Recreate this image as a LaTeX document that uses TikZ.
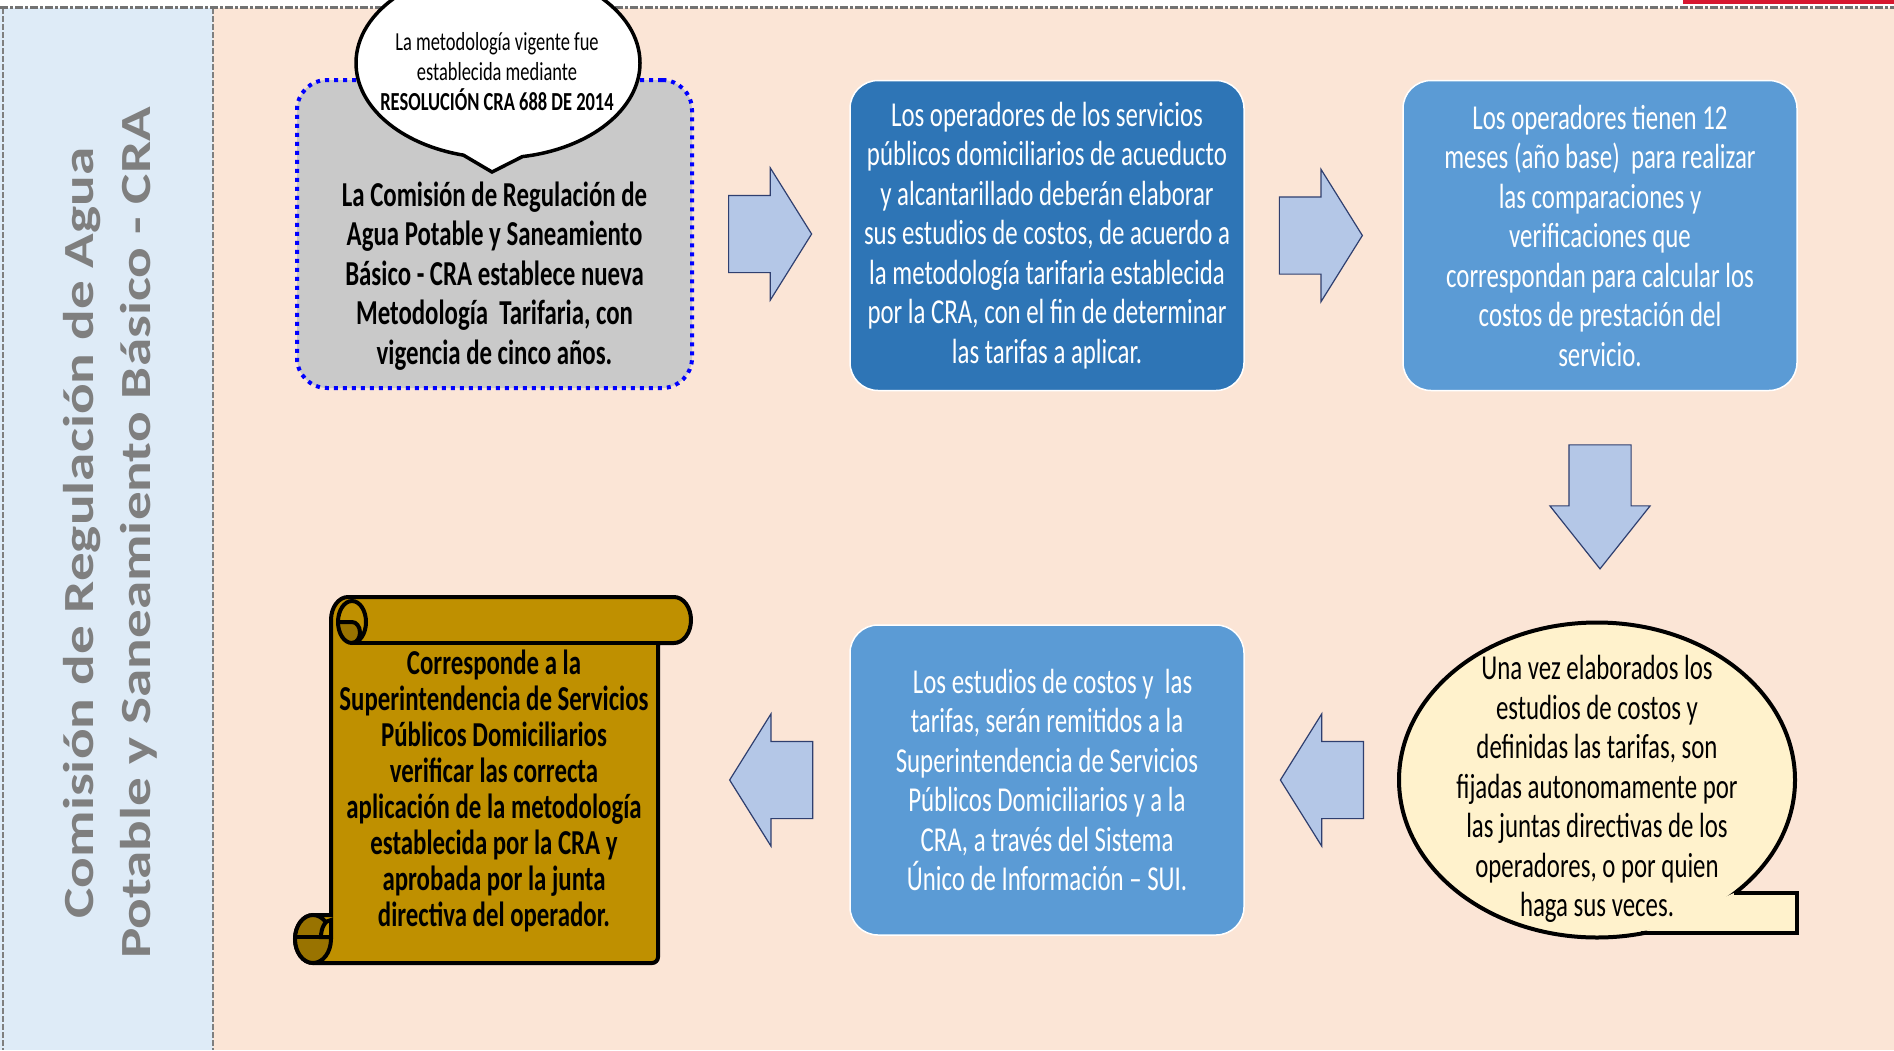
\documentclass[tikz,border=0pt]{standalone}
\usepackage{fontspec}
\setmainfont{Carlito}[FakeStretch=0.71]
\newfontfamily\sidefont{Carlito}[FakeStretch=1.33]
\usetikzlibrary{positioning,calc,shapes.geometric,shapes.arrows,shapes.callouts}
\definecolor{pinkbg}{HTML}{FBE5D6}
\definecolor{paleblue}{HTML}{DEEBF7}
\definecolor{darkblue}{HTML}{2E75B6}
\definecolor{midblue}{HTML}{5B9BD5}
\definecolor{arrowblue}{HTML}{B4C7E7}
\definecolor{arrowline}{HTML}{2F3F6F}
\definecolor{boxgray}{HTML}{C9C9C9}
\definecolor{cream}{HTML}{FFF2CC}
\definecolor{gold}{HTML}{BF9000}
\definecolor{darkgold}{HTML}{997300}
\definecolor{sidegray}{HTML}{7F7F7F}
\definecolor{redbar}{HTML}{D7172F}
\tikzset{step box/.style={rounded corners=28pt,draw=white,line width=1.5pt,minimum width=394pt,minimum height=310pt,inner sep=0pt,align=center,text=white,font=\fontsize{35}{39.5}\selectfont},
  body text/.style={align=center,inner sep=0pt,font=\fontsize{35}{39.5}\selectfont},
  block arrow/.style={single arrow,draw=arrowline,fill=arrowblue,line width=1.2pt,inner xsep=0pt,inner ysep=38pt,minimum height=83pt,minimum width=131pt,single arrow head extend=27.5pt,single arrow tip angle=116},
  thick line/.style={draw=black,line width=4pt},}

\begin{document}
\begin{tikzpicture}[x=1pt,y=-1pt]
    \useasboundingbox (0,0) rectangle (1894,1050);
    \clip (0,0) rectangle (1894,1050);

    % fondo
    \fill[paleblue] (0,8) rectangle (213,1050);
    \fill[pinkbg] (213,8) rectangle (1894,1050);
    \draw[sidegray,line width=1.5pt,dash pattern=on 6pt off 2pt] (3,8) -- (3,1050);
    \draw[sidegray,line width=1.5pt,dash pattern=on 6pt off 2pt] (213,8) -- (213,1050);
    \draw[sidegray!90!black,line width=3pt,dash pattern=on 8pt off 2pt on 3pt off 2pt] (0,7) -- (1894,7);
    \fill[redbar] (1683,0) rectangle (1894,4);

    \node[rotate=90,align=center,inner sep=0pt,text=sidegray,font=\sidefont\bfseries\fontsize{43}{57}\selectfont] (titulo) at (110,533) {Comisión de Regulación de Agua\\Potable y Saneamiento Básico - CRA};

    % fila de arriba
    \node[draw=blue,fill=boxgray,line width=4pt,dash pattern=on 4pt off 5pt,rounded corners=30pt,minimum width=395pt,minimum height=308pt] (cra) at (494.5,234) {};
    \node[body text,font=\bfseries\fontsize{35}{39.5}\selectfont] (cratext) at (494.5,276) {La Comisión de Regulación de\\Agua Potable y Saneamiento\\Básico - CRA establece nueva\\Metodología\ \ Tarifaria, con\\vigencia de cinco años.};
    \node[ellipse callout,draw=black,fill=white,line width=3.5pt,minimum width=284pt,minimum height=190pt,inner sep=0pt,callout absolute pointer={(492,172)},callout pointer arc=24] (vigente) at (498,63) {};
    \node[align=center,inner sep=0pt,font=\fontsize{26}{30}\selectfont] (vigentetext) at (497,72) {La metodología vigente fue\\establecida mediante\\\textbf{RESOLUCIÓN CRA 688 DE 2014}};

    \node[step box,fill=darkblue] (ops) at (1047,235.5) {Los operadores de los servicios\\públicos domiciliarios de acueducto\\y alcantarillado deberán elaborar\\sus estudios de costos, de acuerdo a\\la metodología tarifaria establecida\\por la CRA, con el fin de determinar\\las tarifas a aplicar.};
    \node[step box,fill=midblue] (plazo) at (1600,235.5) {Los operadores tienen 12\\meses (año base)\ \ para realizar\\las comparaciones y\\verificaciones que\\correspondan para calcular los\\costos de prestación del\\servicio.};

    % fila de abajo
    \node[ellipse,thick line,fill=cream,minimum width=396pt,minimum height=315pt,inner sep=0pt] (fijan) at (1597,780) {};
    \fill[cream] (1734,893) -- (1797,893) -- (1797,933) -- (1641,933) -- cycle;
    \draw[line width=4pt] (1734,893) -- (1797,893) -- (1797,933) -- (1641,933);
    \node[body text] (fijantext) at (1597,789) {Una vez elaborados los\\estudios de costos y\\definidas las tarifas, son\\fijadas autonomamente por\\las juntas directivas de los\\operadores, o por quien\\haga sus veces.};

    \node[step box,fill=midblue] (remite) at (1047,780) {\ \ Los estudios de costos y\ \ las\\tarifas, serán remitidos a la\\Superintendencia de Servicios\\Públicos Domiciliarios y a la\\CRA, a través del Sistema\\Único de Información – SUI.};

    % pergamino
    \filldraw[thick line,fill=gold] (331,620) -- (331,915) -- (313,915)
        arc[start angle=270,end angle=90,x radius=18,y radius=24]
        -- (652,963) arc[start angle=90,end angle=0,radius=6] -- (658,643) -- (674,643)
        arc[start angle=90,end angle=-90,x radius=17,y radius=23]
        -- (348,597) arc[start angle=270,end angle=180,x radius=17,y radius=23] -- cycle;
    \draw[thick line] (674,643) -- (352,643);
    \fill[darkgold] (338,622) arc[start angle=180,end angle=90,x radius=14,y radius=21]
        arc[start angle=90,end angle=-90,x radius=8,y radius=10.5] -- cycle;
    \draw[thick line] (352,622) ellipse[x radius=14,y radius=21];
    \draw[thick line] (338,622) -- (352,622) arc[start angle=-90,end angle=90,x radius=8,y radius=10.5];
    \filldraw[thick line,fill=darkgold] (313,939) ellipse[x radius=18,y radius=24];
    \filldraw[thick line,fill=gold] (331,937) -- (321,937) arc[start angle=180,end angle=270,x radius=10,y radius=17] -- cycle;
    \draw[thick line] (296,937) -- (331,937);
    \node[body text,font=\bfseries\fontsize{35}{36}\selectfont] (super) at (494,791) {Corresponde a la\\Superintendencia de Servicios\\Públicos Domiciliarios\\verificar las correcta\\aplicación de la metodología\\establecida por la CRA y\\aprobada por la junta\\directiva del operador.};

    % flechas
    \node[block arrow,right=34pt of cra] (a1) {};
    \node[block arrow,right=34pt of ops] (a2) {};
    \node[block arrow,shape border rotate=270,inner xsep=30.5pt,inner ysep=0pt,minimum height=124pt,minimum width=99pt,single arrow head extend=19pt,single arrow tip angle=77,below=53pt of plazo] (a3) {};
    \node[block arrow,shape border rotate=180,left=33pt of fijan] (a4) {};
    \node[block arrow,shape border rotate=180,left=36pt of remite] (a5) {};
\end{tikzpicture}
\end{document}
